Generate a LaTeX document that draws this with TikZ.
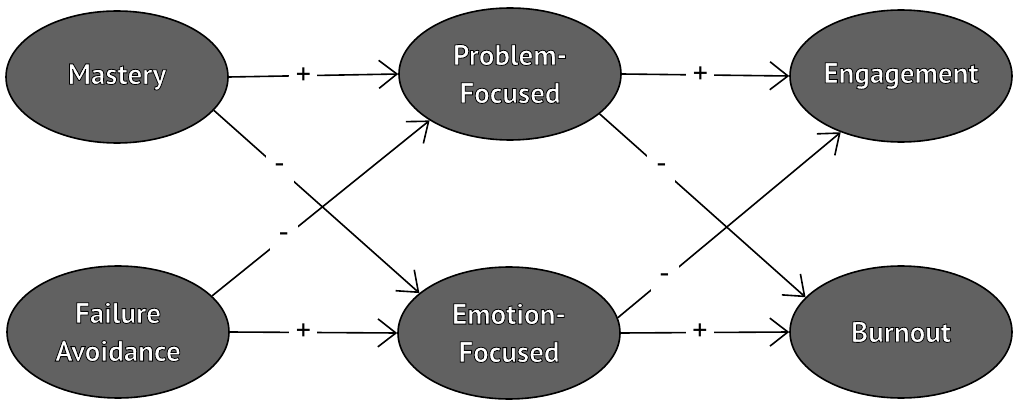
\documentclass[tikz,border=0pt]{standalone}
\usepackage{fontspec}
\setsansfont{PT Sans}
\usetikzlibrary{arrows.meta, positioning, shapes.geometric}

% white letters with a thin black rim
\newcommand{\whitetxt}[1]{\textcolor{white}{%
  \special{pdf:literal direct 2 Tr 0.8 w 0 G}#1\special{pdf:literal direct 0 Tr}}}

\begin{document}
\begin{tikzpicture}[
  x=1pt, y=-1pt,
  >={Straight Barb[length=18pt, width=28pt]},
  every node/.style={font=\sffamily},
  % --- ellipse style ---
  factor/.style={
    ellipse, draw=black, line width=1.6pt, fill=black!62,
    minimum width=222pt, minimum height=132pt, inner sep=0pt,
    align=center, font=\sffamily\bfseries\fontsize{29}{38}\selectfont,
  },
  link/.style={->, line width=1.6pt, draw=black},
  sign/.style={fill=white, minimum size=28pt, inner sep=0pt,
    font=\sffamily\fontsize{30}{30}\selectfont},
]

\useasboundingbox (0,0) rectangle (1015,401);

% ---------- Column 1: goals ----------
\node[factor] (mast) at (117, 77) {\whitetxt{Mastery}};
\node[factor] (fail) at (118, 332)
  {\whitetxt{Failure}\\\whitetxt{Avoidance}};

% ---------- Column 2: coping ----------
\node[factor] (prob) at (510, 74)
  {\whitetxt{Problem-}\\\whitetxt{Focused}};
\node[factor] (emo) at (509, 333)
  {\whitetxt{Emotion-}\\\whitetxt{Focused}};

% ---------- Column 3: outcomes ----------
\node[factor] (eng) at (901, 76) {\whitetxt{Engagement}};
\node[factor] (burn) at (901, 332) {\whitetxt{Burnout}};

% Straight paths
\draw[link] (mast.east) -- node[sign, pos=0.44] {+} (prob.west);
\draw[link] (fail.east) -- node[sign, pos=0.44] {+} (emo.west);
\draw[link] (prob.east) -- node[sign, pos=0.47] {+} (eng.west);
\draw[link] (emo.east) -- node[sign, pos=0.47] {+} (burn.west);

% Crossing paths
\draw[link] (mast.-19) -- node[sign, pos=0.32] {-} (emo.156);
\draw[link] (fail.21) -- node[sign, pos=0.33] {-} (prob.210);
\draw[link] (prob.-24) -- node[sign, pos=0.30] {-} (burn.160);
\draw[link] (emo.8) -- node[sign, pos=0.21] {-} (eng.223);

\end{tikzpicture}
\end{document}
